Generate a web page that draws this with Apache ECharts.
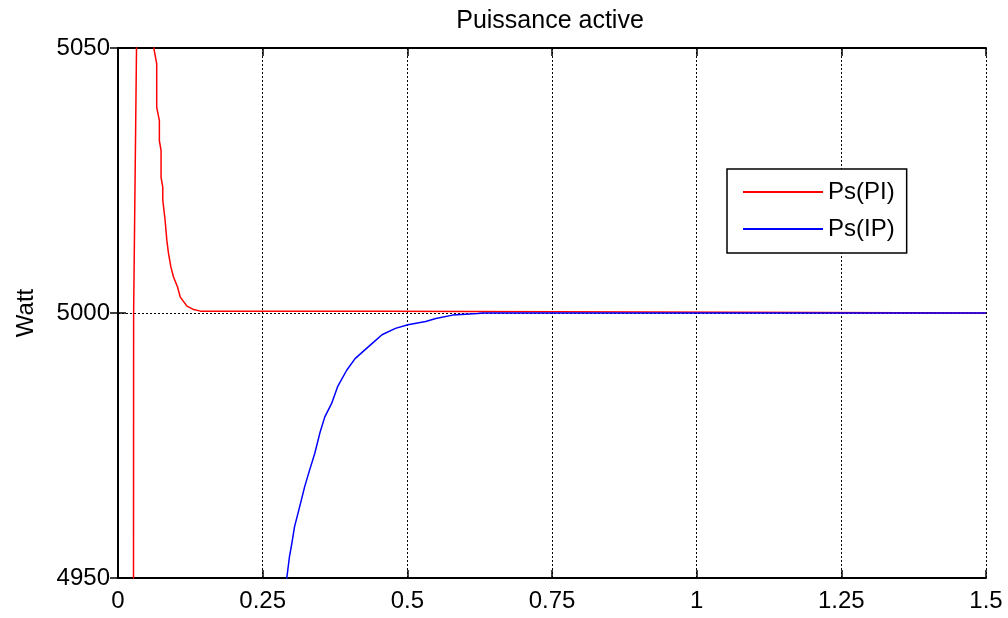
<!DOCTYPE html>
<html>
<head>
<meta charset="utf-8">
<script src="https://cdn.jsdelivr.net/npm/echarts@6/dist/echarts.min.js"></script>
<style>
  html, body { margin: 0; padding: 0; background: #ffffff; }
  #chart { width: 1008px; height: 618px; }
</style>
</head>
<body>
<div id="chart"></div>
<script>
// Active power response of the two controllers (time in s, power in W)
const piTime  = [0.0000, 0.0245, 0.0268, 0.0270, 0.0322, 0.0345, 0.0560, 0.0622, 0.0669, 0.0669, 0.0715, 0.0715,
                 0.0744, 0.0744, 0.0774, 0.0774, 0.0814, 0.0844, 0.0872, 0.0914, 0.0959, 0.1029, 0.1076,
                 0.1192, 0.1308, 0.1424, 0.4600, 0.4620, 1.5000];
const piPower = [0, 4900, 4950, 5000, 5052, 5100, 5090, 5049.8, 5047.0, 5038.8, 5036.3, 5032.5,
                 5030.7, 5025.6, 5023.7, 5021.3, 5017.5, 5013.7, 5011.3, 5008.7, 5006.8, 5004.9, 5003.0,
                 5001.3, 5000.65, 5000.35, 5000.35, 5000.0, 5000.0];

const ipTime  = [0.2850, 0.2918, 0.2964, 0.3005, 0.3051, 0.3110, 0.3168, 0.3225, 0.3312, 0.3400, 0.3487,
                 0.3574, 0.3690, 0.3795, 0.3952, 0.4097, 0.4271, 0.4418, 0.4562, 0.4794, 0.5010, 0.5317,
                 0.5492, 0.5783, 0.6219, 0.6300, 1.5000];
const ipPower = [4940, 4950.1, 4954.1, 4956.6, 4959.7, 4962.2, 4964.7, 4967.2, 4970.4, 4973.5, 4977.3,
                 4980.4, 4982.9, 4986.1, 4989.2, 4991.4, 4993.1, 4994.5, 4995.9, 4997.1, 4997.8, 4998.4,
                 4998.95, 4999.6, 4999.9, 5000.0, 5000.0];

const xTicks = [0, 0.25, 0.5, 0.75, 1, 1.25, 1.5];
const yTicks = [4950, 5000, 5050];
const seriesNames = ['Ps(PI)', 'Ps(IP)'];
const seriesColors = ['#ff0000', '#0000ff'];
const titleText = 'Puissance active';
const yName = 'Watt';

const font = 'Arial, "Liberation Sans", Helvetica, sans-serif';
const pair = (xs, ys) => xs.map((x, i) => [x, ys[i]]);
const tickText = (ticks, v) => {
  const t = ticks.find(k => Math.abs(k - v) < 1e-9);
  return t === undefined ? '' : String(t);
};

const dotted = { color: '#000', width: 1, type: [2, 2] };
const frameLine = { show: true, lineStyle: { color: '#000', width: 2 } };
const inTick = { show: true, inside: true, length: 8, lineStyle: { color: '#000', width: 1.5 } };

const chart = echarts.init(document.getElementById('chart'), null, { renderer: 'canvas' });
chart.setOption({
  backgroundColor: '#ffffff',
  animation: false,
  title: {
    text: titleText,
    left: 545, top: 4, textAlign: 'center',
    textStyle: { fontFamily: font, fontSize: 25, fontWeight: 'normal', color: '#000' }
  },
  legend: {
    data: seriesNames.map(n => ({ name: n, icon: 'rect' })),
    orient: 'vertical',
    left: 727, top: 169,
    padding: [11, 12, 12, 16],
    backgroundColor: '#fff',
    borderColor: '#000', borderWidth: 1.5, borderRadius: 0,
    itemWidth: 80, itemHeight: 2, itemGap: 13, itemTextGap: 11,
    textStyle: { fontFamily: font, fontSize: 24, color: '#000', lineHeight: 24 }
  },
  grid: { left: 118, right: 22, top: 48, bottom: 40, containLabel: false },
  xAxis: [
    {
      type: 'value', min: 0, max: 1.5, interval: 0.25,
      axisLine: frameLine, axisTick: inTick,
      axisLabel: {
        margin: 11, color: '#000', fontFamily: font, fontSize: 24,
        formatter: v => tickText(xTicks, v)
      },
      splitLine: { show: true, lineStyle: dotted }
    },
    {
      type: 'value', position: 'top', min: 0, max: 1.5, interval: 0.25,
      axisLine: frameLine, axisTick: inTick, axisLabel: { show: false }, splitLine: { show: false }
    }
  ],
  yAxis: [
    {
      type: 'value', min: yTicks[0], max: yTicks[yTicks.length - 1], interval: 50,
      name: yName, nameLocation: 'middle', nameGap: 80, nameRotate: 90,
      nameTextStyle: { fontFamily: font, fontSize: 24, color: '#000' },
      axisLine: frameLine, axisTick: inTick,
      axisLabel: {
        margin: 8, color: '#000', fontFamily: font, fontSize: 24,
        formatter: v => tickText(yTicks, v)
      },
      splitLine: { show: true, lineStyle: dotted }
    },
    {
      type: 'value', position: 'right', min: yTicks[0], max: yTicks[yTicks.length - 1], interval: 50,
      axisLine: frameLine, axisTick: inTick, axisLabel: { show: false }, splitLine: { show: false }
    }
  ],
  series: [
    {
      name: seriesNames[0], type: 'line', xAxisIndex: 0, yAxisIndex: 0,
      data: pair(piTime, piPower), showSymbol: false, symbol: 'none', clip: true,
      lineStyle: { color: seriesColors[0], width: 1.5 }, itemStyle: { color: seriesColors[0] }, z: 3
    },
    {
      name: seriesNames[1], type: 'line', xAxisIndex: 0, yAxisIndex: 0,
      data: pair(ipTime, ipPower), showSymbol: false, symbol: 'none', clip: true,
      lineStyle: { color: seriesColors[1], width: 1.5 }, itemStyle: { color: seriesColors[1] }, z: 4
    }
  ]
});
</script>
</body>
</html>
